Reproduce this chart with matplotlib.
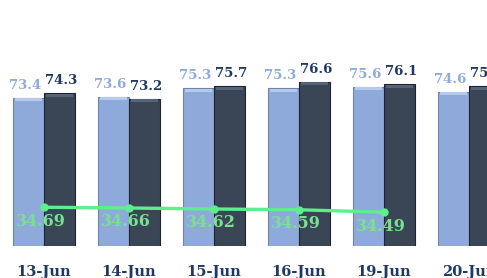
import matplotlib
matplotlib.use("Agg")
import matplotlib.pyplot as plt
import numpy as np

categories = ["13-Jun", "14-Jun", "15-Jun", "16-Jun", "19-Jun", "20-Jun"]
series_a = [73.4, 73.6, 75.3, 75.3, 75.6, 74.6]
series_b = [74.3, 73.2, 75.7, 76.6, 76.1, 75.7]
line_vals = [34.69, 34.66, 34.62, 34.59, 34.49]

light = "#8eaadb"
light_edge = "#6f84aa"
light_top = "#b6c9ef"
dark = "#3a4656"
dark_edge = "#1e2530"
dark_top = "#56647a"
light_lbl = "#8faadc"
dark_lbl = "#1f3864"
green = "#5cf08c"
green_lbl = "#78e28e"

fig = plt.figure(figsize=(4.87, 2.78), dpi=100)
ax = fig.add_axes([0, 32 / 278, 1, 246 / 278])
ax2 = ax.twinx()

x = np.arange(len(categories))
w = 0.37

ax.bar(x - w / 2, series_a, w, color=light, edgecolor=light_edge, linewidth=0.8, zorder=2)
ax.bar(x + w / 2, series_b, w, color=dark, edgecolor=dark_edge, linewidth=0.8, zorder=2)
strip = 0.6
ax.bar(x - w / 2, strip, w * 0.86, bottom=np.array(series_a) - strip - 0.15, color=light_top, linewidth=0, zorder=3)
ax.bar(x + w / 2, strip, w * 0.86, bottom=np.array(series_b) - strip - 0.15, color=dark_top, linewidth=0, zorder=3)

ax.set_ylim(43.7, 92.9)
ax.set_xlim(-0.518, 5.212)

for xi, v in zip(x, series_a):
    ax.annotate(f"{v:.1f}", (xi - w / 2, v), xytext=(-2, 4), textcoords="offset points",
                ha="center", va="bottom", fontsize=9.5, fontweight="bold",
                color=light_lbl, family="DejaVu Serif", zorder=5)
for xi, v in zip(x, series_b):
    ax.annotate(f"{v:.1f}", (xi + w / 2, v), xytext=(1, 4), textcoords="offset points",
                ha="center", va="bottom", fontsize=9.5, fontweight="bold",
                color=dark_lbl, family="DejaVu Serif", zorder=5)

ax.set_xticks(x)
ax.set_xticklabels(categories, fontsize=10.5, fontweight="bold", color=dark_lbl, family="DejaVu Serif")
ax.tick_params(axis="x", length=0, pad=14)
ax.tick_params(axis="y", left=False, labelleft=False)
for s in ax.spines.values():
    s.set_visible(False)

lx = x[:len(line_vals)]
ax2.plot(lx, line_vals, color=green, linewidth=2.4, marker="o", markersize=5, zorder=6)
ax2.set_ylim(33.14, 42.98)
for xi, v in zip(lx, line_vals):
    ax2.annotate(f"{v:.2f}", (xi, v), xytext=(-2, -10), textcoords="offset points",
                 ha="center", va="center", fontsize=11.5, fontweight="bold",
                 color=green_lbl, family="DejaVu Serif", zorder=7)
ax2.tick_params(axis="y", right=False, labelright=False)
for s in ax2.spines.values():
    s.set_visible(False)

fig.savefig("out.png", dpi=100)
